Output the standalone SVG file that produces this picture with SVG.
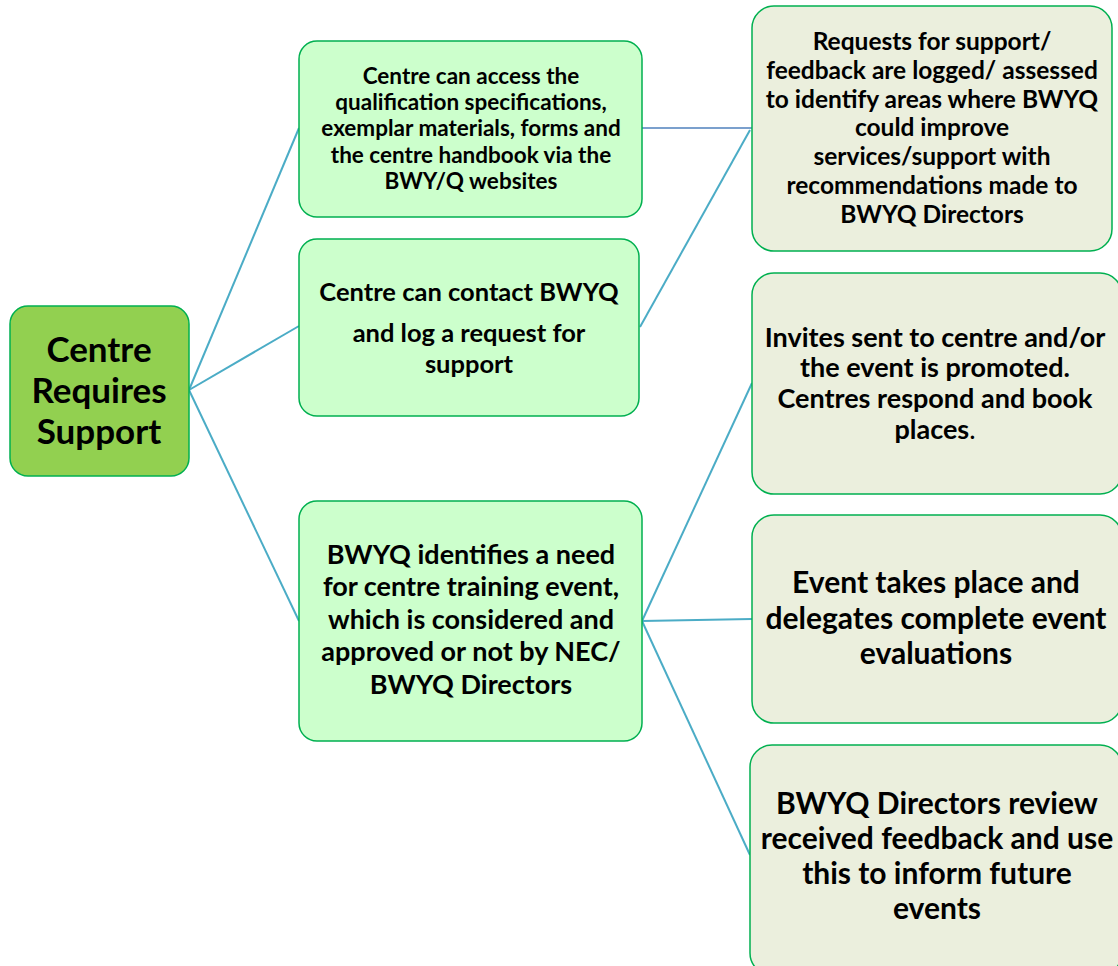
<svg xmlns="http://www.w3.org/2000/svg" width="1118" height="966" viewBox="0 0 1118 966">
<style>
.root{fill:#92d050;stroke:#00b050;stroke-width:1.5}
.mid{fill:#ccffcc;stroke:#00b050;stroke-width:1.5}
.right{fill:#ebefdd;stroke:#00b050;stroke-width:1.5}
text{font-family:Lato,"Open Sans",sans-serif;font-weight:bold;fill:#000;text-anchor:middle}
.c{stroke:#4bacc6;stroke-width:2;fill:none}
.cb{stroke:#4f81bd;stroke-width:1.5;fill:none}
</style>
<g id="connectors">
<line class="c" x1="189" y1="390" x2="299" y2="128"/>
<line class="c" x1="189" y1="390" x2="299" y2="326"/>
<line class="c" x1="189" y1="390" x2="299" y2="621"/>
<line class="cb" x1="642" y1="128" x2="752" y2="128"/>
<line class="c" x1="640" y1="327" x2="750" y2="130"/>
<line class="c" x1="642" y1="621" x2="752" y2="383"/>
<line class="c" x1="642" y1="621" x2="752" y2="619"/>
<line class="c" x1="642" y1="621" x2="750" y2="855"/>
</g>
<g id="root">
<rect class="root" x="10" y="306" width="179" height="170" rx="18"/>
<text font-size="35"><tspan x="99" y="362">Centre</tspan><tspan x="99" y="403">Requires</tspan><tspan x="99" y="444">Support</tspan></text>
</g>
<g id="nodeA">
<rect class="mid" x="299" y="41" width="343" height="176" rx="18"/>
<text font-size="22.5"><tspan x="471" y="84">Centre can access the</tspan><tspan x="471" y="110">qualification specifications,</tspan><tspan x="471" y="136">exemplar materials, forms and</tspan><tspan x="471" y="163">the centre handbook via the</tspan><tspan x="471" y="189">BWY/Q websites</tspan></text>
</g>
<g id="nodeB">
<rect class="mid" x="299" y="239" width="340" height="177" rx="18"/>
<text font-size="25.5"><tspan x="469" y="301">Centre can contact BWYQ</tspan><tspan x="469" y="342">and log a request for</tspan><tspan x="469" y="373">support</tspan></text>
</g>
<g id="nodeC">
<rect class="mid" x="299" y="501" width="343" height="240" rx="18"/>
<text font-size="27"><tspan x="471" y="564">BWYQ identifies a need</tspan><tspan x="471" y="596">for centre training event,</tspan><tspan x="471" y="629">which is considered and</tspan><tspan x="471" y="661">approved or not by NEC/</tspan><tspan x="471" y="694">BWYQ Directors</tspan></text>
</g>
<g id="nodeR1">
<rect class="right" x="752" y="6" width="360" height="245" rx="22"/>
<text font-size="24.5"><tspan x="932" y="50">Requests for support/</tspan><tspan x="932" y="79">feedback are logged/ assessed</tspan><tspan x="932" y="108">to identify areas where BWYQ</tspan><tspan x="932" y="136">could improve</tspan><tspan x="932" y="165">services/support with</tspan><tspan x="932" y="194">recommendations made to</tspan><tspan x="932" y="223">BWYQ Directors</tspan></text>
</g>
<g id="nodeR2">
<rect class="right" x="752" y="273" width="370" height="221" rx="22"/>
<text font-size="27"><tspan x="935" y="347">Invites sent to centre and/or</tspan><tspan x="935" y="377">the event is promoted.</tspan><tspan x="935" y="408">Centres respond and book</tspan><tspan x="935" y="439">places<tspan font-weight="normal">.</tspan></tspan></text>
</g>
<g id="nodeR3">
<rect class="right" x="752" y="515" width="370" height="208" rx="22"/>
<text font-size="30"><tspan x="936" y="593">Event takes place and</tspan><tspan x="936" y="629">delegates complete event</tspan><tspan x="936" y="664">evaluations</tspan></text>
</g>
<g id="nodeR4">
<rect class="right" x="750" y="745" width="372" height="230" rx="22"/>
<text font-size="30"><tspan x="937" y="814">BWYQ Directors review</tspan><tspan x="937" y="849">received feedback and use</tspan><tspan x="937" y="884">this to inform future</tspan><tspan x="937" y="919">events</tspan></text>
</g>
</svg>
